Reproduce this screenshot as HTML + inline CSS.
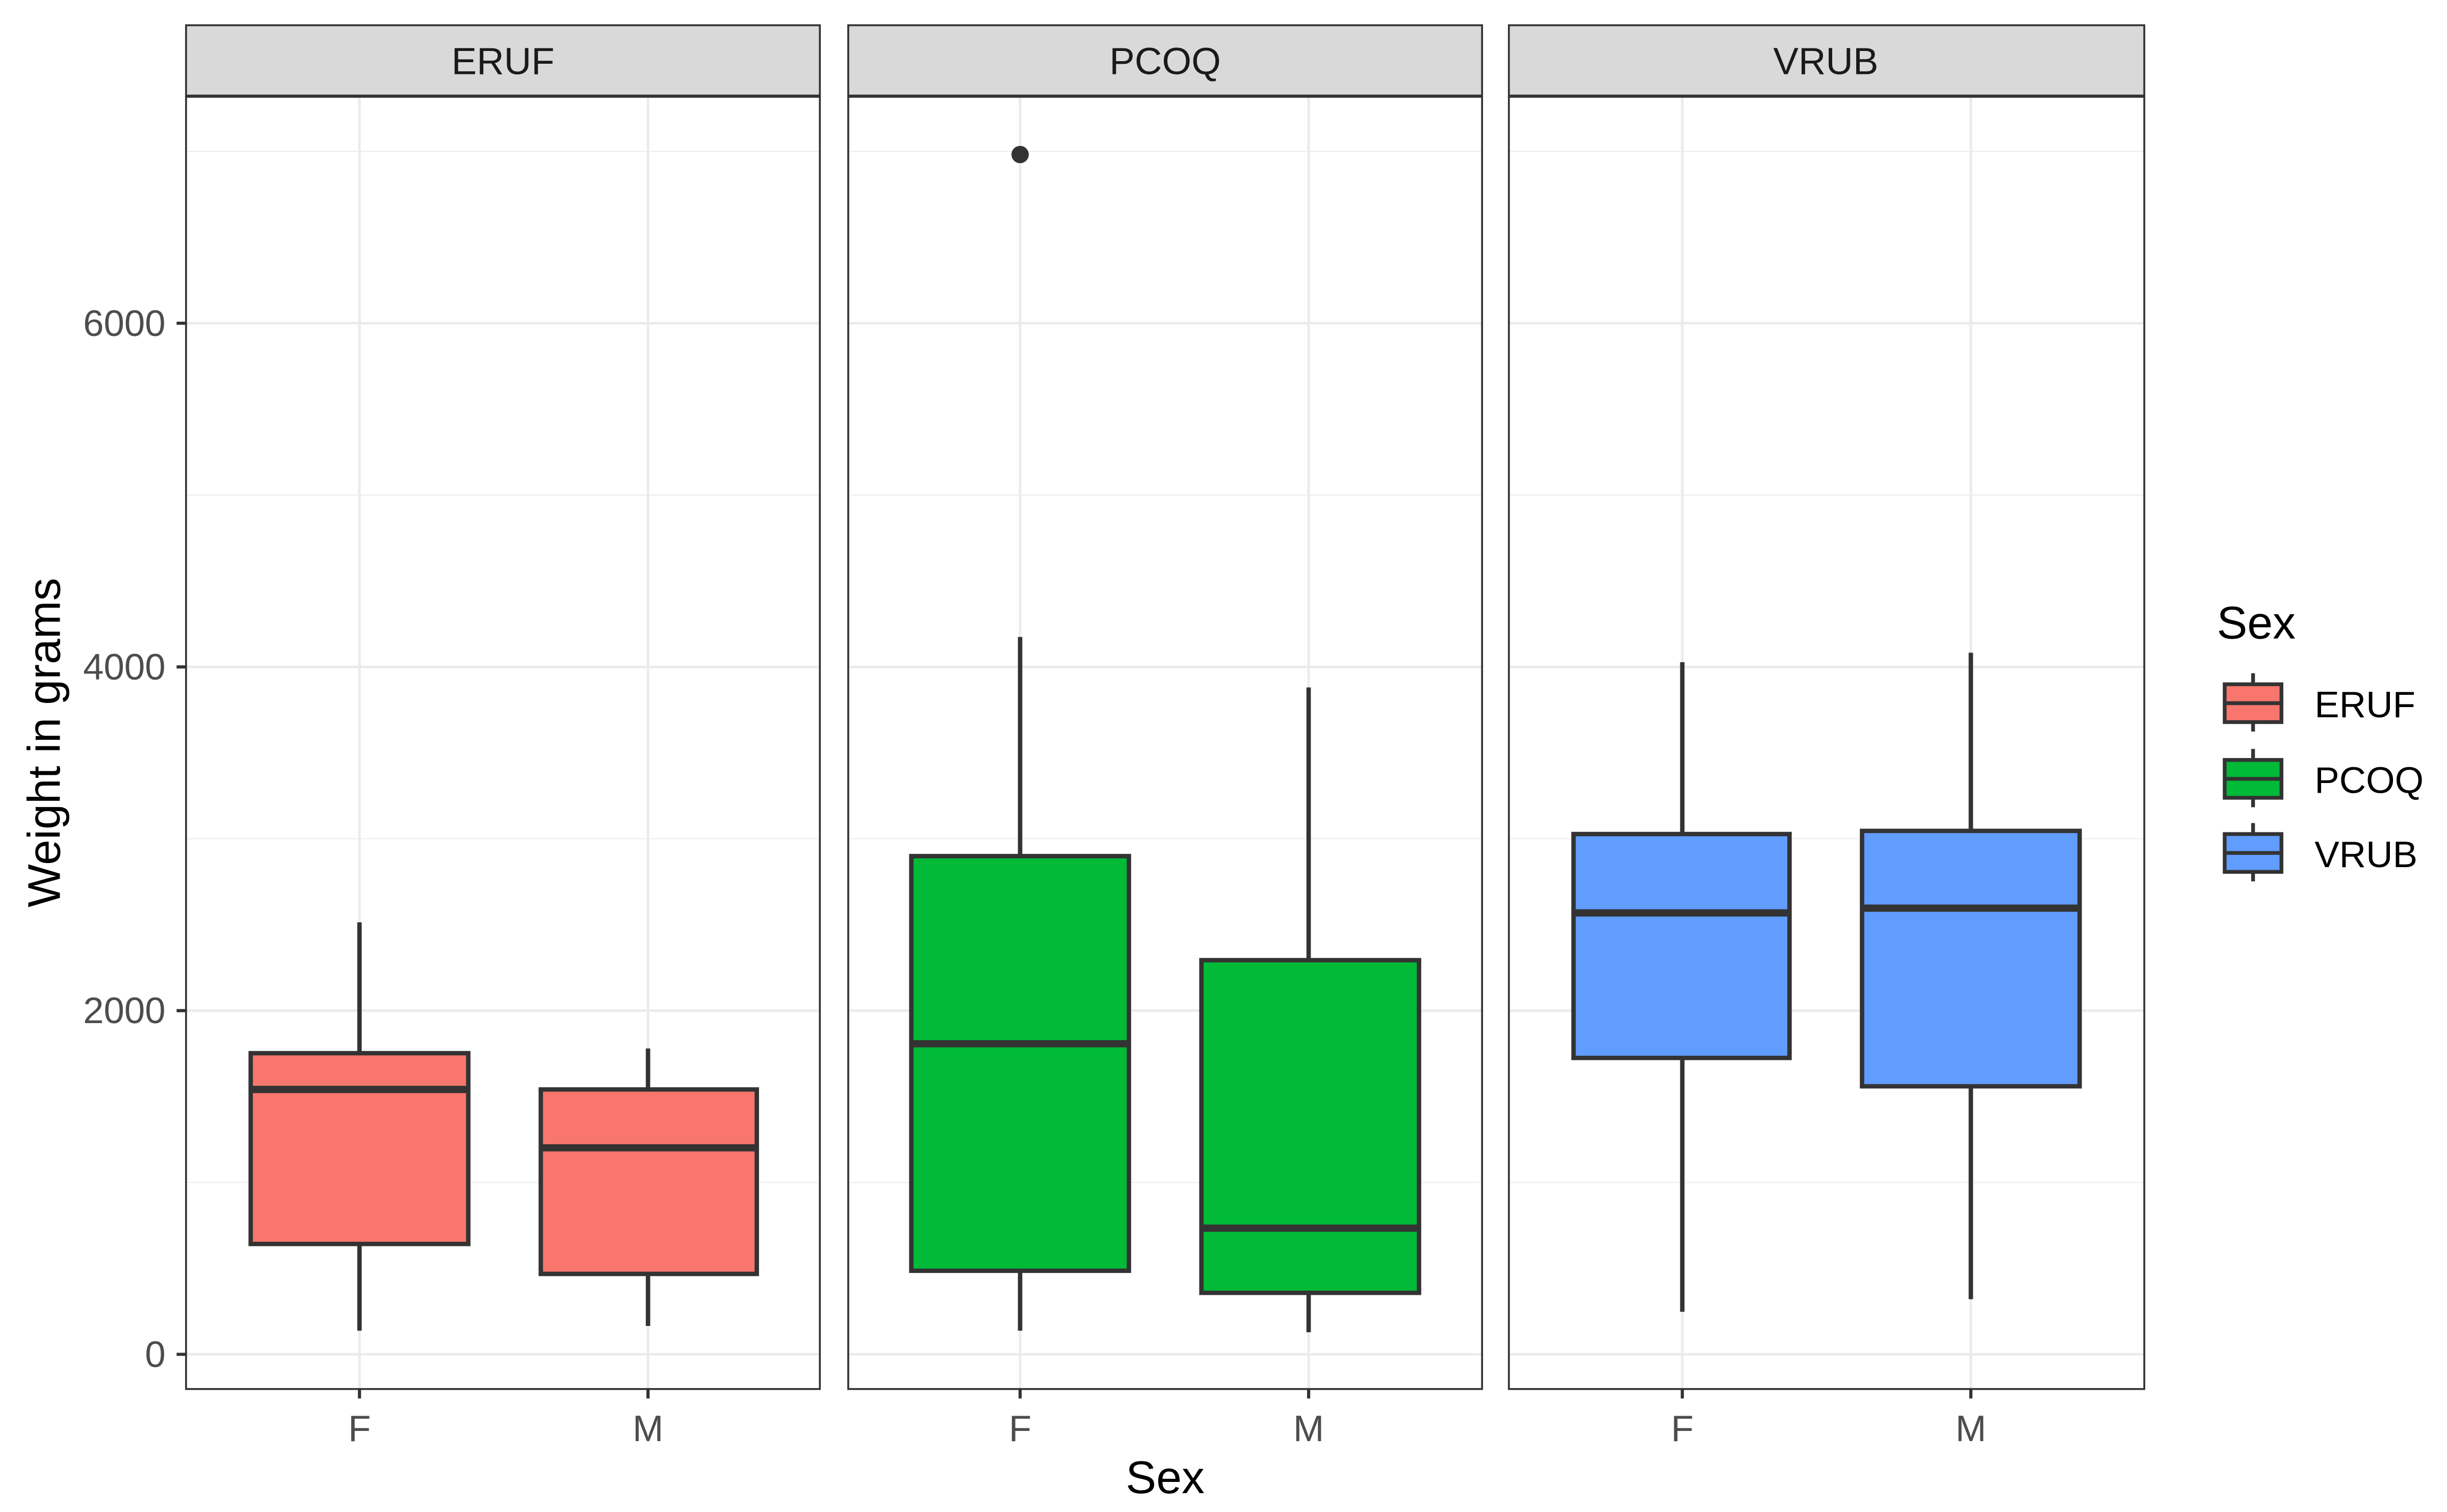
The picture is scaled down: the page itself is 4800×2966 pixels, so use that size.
<!DOCTYPE html>
<html><head><meta charset="utf-8"><style>html,body{margin:0;padding:0;background:#fff}svg{display:block}</style></head>
<body>
<svg width="4800" height="2966" viewBox="0 0 1552 959" xmlns="http://www.w3.org/2000/svg" font-family="Liberation Sans, Arial, sans-serif">
<rect width="1552" height="959" fill="#fff"/>
<g id="p1">
<rect x="118" y="61" width="402" height="820" fill="#fff"/>
<g stroke="#ebebeb" stroke-width="0.6">
<line x1="118" x2="520" y1="750" y2="750"/><line x1="118" x2="520" y1="532" y2="532"/><line x1="118" x2="520" y1="314" y2="314"/><line x1="118" x2="520" y1="96" y2="96"/>
</g>
<g stroke="#ebebeb" stroke-width="1.6">
<line x1="118" x2="520" y1="859" y2="859"/><line x1="118" x2="520" y1="641" y2="641"/><line x1="118" x2="520" y1="423" y2="423"/><line x1="118" x2="520" y1="205" y2="205"/>
<line x1="228" x2="228" y1="61" y2="881"/><line x1="411" x2="411" y1="61" y2="881"/>
</g>
<g stroke="#333" stroke-width="2.8" fill="#F8766D">
<line x1="228" x2="228" y1="585" y2="844"/>
<rect x="159" y="668" width="138" height="121"/>
<line x1="159" x2="297" y1="691" y2="691" stroke-width="4.6"/>
<line x1="411" x2="411" y1="665" y2="841"/>
<rect x="343" y="691" width="137" height="117"/>
<line x1="343" x2="480" y1="728" y2="728" stroke-width="4.6"/>
</g>
<rect x="118" y="61" width="402" height="820" fill="none" stroke="#333" stroke-width="1.2"/>
<rect x="118" y="16" width="402" height="45" fill="#d9d9d9" stroke="#333" stroke-width="1.2"/>
<line x1="118" x2="520" y1="61" y2="61" stroke="#333" stroke-width="2"/>
<text x="319" y="47" font-size="24" text-anchor="middle" fill="#1a1a1a">ERUF</text>
</g>
<g id="p2">
<rect x="538" y="61" width="402" height="820" fill="#fff"/>
<g stroke="#ebebeb" stroke-width="0.6">
<line x1="538" x2="940" y1="750" y2="750"/><line x1="538" x2="940" y1="532" y2="532"/><line x1="538" x2="940" y1="314" y2="314"/><line x1="538" x2="940" y1="96" y2="96"/>
</g>
<g stroke="#ebebeb" stroke-width="1.6">
<line x1="538" x2="940" y1="859" y2="859"/><line x1="538" x2="940" y1="641" y2="641"/><line x1="538" x2="940" y1="423" y2="423"/><line x1="538" x2="940" y1="205" y2="205"/>
<line x1="647" x2="647" y1="61" y2="881"/><line x1="830" x2="830" y1="61" y2="881"/>
</g>
<g stroke="#333" stroke-width="2.8" fill="#00BA38">
<line x1="647" x2="647" y1="404" y2="844"/>
<rect x="578" y="543" width="138" height="263"/>
<line x1="578" x2="716" y1="662" y2="662" stroke-width="4.6"/>
<line x1="830" x2="830" y1="436" y2="845"/>
<rect x="762" y="609" width="138" height="211"/>
<line x1="762" x2="900" y1="779" y2="779" stroke-width="4.6"/>
</g>
<circle cx="647" cy="98" r="5.5" fill="#333"/>
<rect x="538" y="61" width="402" height="820" fill="none" stroke="#333" stroke-width="1.2"/>
<rect x="538" y="16" width="402" height="45" fill="#d9d9d9" stroke="#333" stroke-width="1.2"/>
<line x1="538" x2="940" y1="61" y2="61" stroke="#333" stroke-width="2"/>
<text x="739" y="47" font-size="24" text-anchor="middle" fill="#1a1a1a">PCOQ</text>
</g>
<g id="p3">
<rect x="957" y="61" width="403" height="820" fill="#fff"/>
<g stroke="#ebebeb" stroke-width="0.6">
<line x1="957" x2="1360" y1="750" y2="750"/><line x1="957" x2="1360" y1="532" y2="532"/><line x1="957" x2="1360" y1="314" y2="314"/><line x1="957" x2="1360" y1="96" y2="96"/>
</g>
<g stroke="#ebebeb" stroke-width="1.6">
<line x1="957" x2="1360" y1="859" y2="859"/><line x1="957" x2="1360" y1="641" y2="641"/><line x1="957" x2="1360" y1="423" y2="423"/><line x1="957" x2="1360" y1="205" y2="205"/>
<line x1="1067" x2="1067" y1="61" y2="881"/><line x1="1250" x2="1250" y1="61" y2="881"/>
</g>
<g stroke="#333" stroke-width="2.8" fill="#619CFF">
<line x1="1067" x2="1067" y1="420" y2="832"/>
<rect x="998" y="529" width="137" height="142"/>
<line x1="998" x2="1135" y1="579" y2="579" stroke-width="4.6"/>
<line x1="1250" x2="1250" y1="414" y2="824"/>
<rect x="1181" y="527" width="138" height="162"/>
<line x1="1181" x2="1319" y1="576" y2="576" stroke-width="4.6"/>
</g>
<rect x="957" y="61" width="403" height="820" fill="none" stroke="#333" stroke-width="1.2"/>
<rect x="957" y="16" width="403" height="45" fill="#d9d9d9" stroke="#333" stroke-width="1.2"/>
<line x1="957" x2="1360" y1="61" y2="61" stroke="#333" stroke-width="2"/>
<text x="1158" y="47" font-size="24" text-anchor="middle" fill="#1a1a1a">VRUB</text>
</g>
<g stroke="#333" stroke-width="2">
<line x1="112" x2="118" y1="859" y2="859"/><line x1="112" x2="118" y1="641" y2="641"/><line x1="112" x2="118" y1="423" y2="423"/><line x1="112" x2="118" y1="205" y2="205"/>
<line x1="228" x2="228" y1="881" y2="887"/><line x1="411" x2="411" y1="881" y2="887"/>
<line x1="647" x2="647" y1="881" y2="887"/><line x1="830" x2="830" y1="881" y2="887"/>
<line x1="1067" x2="1067" y1="881" y2="887"/><line x1="1250" x2="1250" y1="881" y2="887"/>
</g>
<g font-size="23.5" fill="#4d4d4d" text-anchor="end">
<text x="105" y="867">0</text><text x="105" y="649">2000</text><text x="105" y="431">4000</text><text x="105" y="213">6000</text>
</g>
<g font-size="23.5" fill="#4d4d4d" text-anchor="middle">
<text x="228" y="914">F</text><text x="411" y="914">M</text>
<text x="647" y="914">F</text><text x="830" y="914">M</text>
<text x="1067" y="914">F</text><text x="1250" y="914">M</text>
</g>
<text x="739" y="947" font-size="29" text-anchor="middle" fill="#000">Sex</text>
<text transform="translate(38,471) rotate(-90)" font-size="29" text-anchor="middle" fill="#000">Weight in grams</text>
<text x="1406" y="405" font-size="29" fill="#000">Sex</text>
<g stroke="#333" stroke-width="2.4">
<line x1="1429" x2="1429" y1="427" y2="464"/>
<rect x="1411" y="434" width="36" height="24" fill="#F8766D"/>
<line x1="1411" x2="1447" y1="446" y2="446"/>
<line x1="1429" x2="1429" y1="475" y2="512"/>
<rect x="1411" y="482" width="36" height="24" fill="#00BA38"/>
<line x1="1411" x2="1447" y1="494" y2="494"/>
<line x1="1429" x2="1429" y1="522" y2="559"/>
<rect x="1411" y="529" width="36" height="24" fill="#619CFF"/>
<line x1="1411" x2="1447" y1="541" y2="541"/>
</g>
<g font-size="23.5" fill="#000">
<text x="1468" y="455">ERUF</text><text x="1468" y="503">PCOQ</text><text x="1468" y="550">VRUB</text>
</g>
</svg>
</body></html>
